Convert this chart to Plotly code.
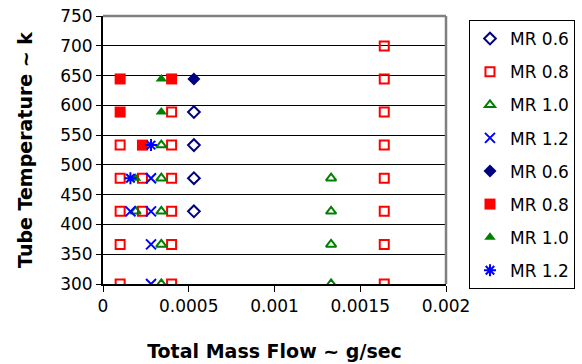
import plotly.graph_objects as go

# Temperatures (K)
T = [699.8, 644.3, 588.7, 533.2, 477.6, 422.0, 366.5, 300.0]

# Open-marker series
mr06_open_x = [0.00053, 0.00053, 0.00053, 0.00053]
mr06_open_y = [588.7, 533.2, 477.6, 422.0]

mr08_open_x = [0.00164, 0.00164, 0.0004, 0.00164, 0.0001, 0.0004, 0.00164,
               0.0001, 0.00023, 0.0004, 0.00164, 0.0001, 0.00023, 0.0004, 0.00164,
               0.0001, 0.0004, 0.00164, 0.0001, 0.0004, 0.00164]
mr08_open_y = [699.8, 644.3, 588.7, 588.7, 533.2, 533.2, 533.2,
               477.6, 477.6, 477.6, 477.6, 422.0, 422.0, 422.0, 422.0,
               366.5, 366.5, 366.5, 300.0, 300.0, 300.0]

mr10_open_x = [0.00034, 0.00034, 0.00133, 0.00019, 0.00034, 0.00133,
               0.00034, 0.00133, 0.00034, 0.00133]
mr10_open_y = [533.2, 477.6, 477.6, 422.0, 422.0, 422.0,
               366.5, 366.5, 300.0, 300.0]

mr12_open_x = [0.00028, 0.00016, 0.00028, 0.00028, 0.00028]
mr12_open_y = [477.6, 422.0, 422.0, 366.5, 300.0]

# Filled-marker series
mr06_fill_x = [0.00053]
mr06_fill_y = [644.3]

mr08_fill_x = [0.0001, 0.0004, 0.0001, 0.00023]
mr08_fill_y = [644.3, 644.3, 588.7, 533.2]

mr10_fill_x = [0.00034, 0.00034, 0.00019]
mr10_fill_y = [644.3, 588.7, 477.6]

mr12_fill_x = [0.00016, 0.00028]
mr12_fill_y = [477.6, 533.2]

legend_names = ["MR 0.6", "MR 0.8", "MR 1.0", "MR 1.2",
                "MR 0.6", "MR 0.8", "MR 1.0", "MR 1.2"]

x_ticks = [0, 0.0005, 0.001, 0.0015, 0.002]
x_tick_text = ["0", "0.0005", "0.001", "0.0015", "0.002"]
y_ticks = [300, 350, 400, 450, 500, 550, 600, 650, 700, 750]

NAVY = "#000080"
RED = "#FF0000"
GREEN = "#008000"
BLUE = "#0000FF"

series = [
    (mr06_open_x, mr06_open_y, "diamond-open", NAVY, 9, 2),
    (mr08_open_x, mr08_open_y, "square-open", RED, 9, 2),
    (mr10_open_x, mr10_open_y, "triangle-up-open", GREEN, 9, 2),
    (mr12_open_x, mr12_open_y, "x-thin-open", BLUE, 10, 2),
    (mr06_fill_x, mr06_fill_y, "diamond", NAVY, 10, 0),
    (mr08_fill_x, mr08_fill_y, "square", RED, 11, 0),
    (mr10_fill_x, mr10_fill_y, "triangle-up", GREEN, 10, 0),
    (mr12_fill_x, mr12_fill_y, "asterisk-open", BLUE, 10, 2),
]

fig = go.Figure()
for i, (xs, ys, sym, col, sz, lw) in enumerate(series):
    fig.add_trace(go.Scatter(
        x=xs, y=ys, mode="markers", name=legend_names[i],
        legendgroup=str(i),
        marker=dict(symbol=sym, color=col, size=sz,
                    line=dict(color=col, width=lw)),
    ))

FONT = "DejaVu Sans, sans-serif"

fig.update_layout(
    width=582, height=364,
    margin=dict(l=103, r=136, t=16, b=80, autoexpand=False),
    paper_bgcolor="white", plot_bgcolor="white",
    font=dict(family=FONT, size=17, color="black"),
    showlegend=True,
    legend=dict(
        x=1.067, y=0.985, xanchor="left", yanchor="top",
        bordercolor="black", borderwidth=1,
        font=dict(family=FONT, size=17, color="black"),
        tracegroupgap=8, maxheight=340,
    ),
    xaxis=dict(
        range=[0, 0.002], tickvals=x_ticks, ticktext=x_tick_text,
        showgrid=False, zeroline=False, automargin=False,
        showline=True, linecolor="black", linewidth=2,
        ticks="outside", ticklen=6, tickcolor="black",
        tickfont=dict(family=FONT, size=17),
        title=dict(text="<b>Total Mass Flow ~ g/sec</b>",
                   font=dict(family=FONT, size=19), standoff=29),
    ),
    yaxis=dict(
        range=[300, 750], tickvals=y_ticks,
        showgrid=True, gridcolor="black", gridwidth=1,
        zeroline=False, automargin=False,
        showline=True, linecolor="black", linewidth=2,
        ticks="outside", ticklen=5, tickcolor="black",
        tickfont=dict(family=FONT, size=17),
        title=dict(text="<b>Tube Temperature ~ k</b>",
                   font=dict(family=FONT, size=19), standoff=22),
    ),
    shapes=[
        dict(type="line", xref="paper", yref="paper", x0=0, x1=1, y0=1, y1=1,
             line=dict(color="#808080", width=2.5)),
        dict(type="line", xref="paper", yref="paper", x0=1, x1=1, y0=0, y1=1,
             line=dict(color="#808080", width=2.5)),
    ],
)

fig.write_html("out.html",
               config={"displayModeBar": False},
               post_script="document.body.style.margin='0';document.body.style.padding='0';")
